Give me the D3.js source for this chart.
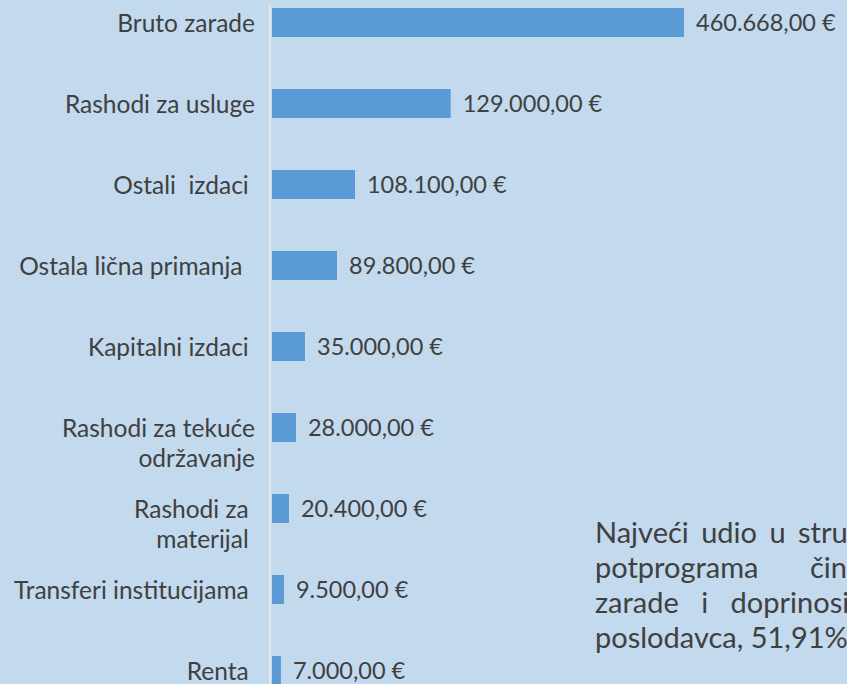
<!DOCTYPE html>
<html>
<head>
<meta charset="utf-8">
<script src="https://cdn.jsdelivr.net/npm/d3@7"></script>
<style>
  body { margin: 0; background: #c2d9ee; overflow: hidden; }
  text { font-family: Lato, "Open Sans", sans-serif; fill: #404040; }
</style>
</head>
<body>
<script>
/*
Rashodi potprograma - horizontalni bar chart
*/
var width = 847,
    height = 684;

// kategorije (redovi za vise linija), razmaci na kraju kao u originalu
var categories = [
  ["Bruto zarade"],
  ["Rashodi za usluge"],
  ["Ostali  izdaci "],
  ["Ostala lična primanja  "],
  ["Kapitalni izdaci "],
  ["Rashodi za tekuće", "održavanje"],
  ["Rashodi za ", "materijal "],
  ["Transferi institucijama "],
  ["Renta "]
];

// iznosi kako pisu na oznakama
var amounts = [460668, 129000, 108100, 89800, 35000, 28000, 20400, 9500, 7000];

// duzine stubica ocitane sa slike (u eurima)
var barValues = [460668, 199800, 92800, 72700, 36900, 26800, 19000, 13400, 10000];

// tekst sa desne strane
var noteLines = [
  "Najveći udio u strukturi rashoda",
  "potprograma čine bruto",
  "zarade i doprinosi na teret",
  "poslodavca, 51,91%."
];
var noteSpacing = [5, 44, 15, 0];

var x0 = 272;

var svg = d3.select("body").append("svg")
    .attr("width", width)
    .attr("height", height)
    .style("display", "block");

svg.append("rect")
    .attr("width", width)
    .attr("height", height)
    .attr("fill", "#c2d9ee");

var x = d3.scaleLinear()
    .domain([0, d3.max(barValues)])
    .range([0, 412]);

var y = d3.scaleBand()
    .domain(d3.range(categories.length))
    .range([8, 685])
    .paddingInner(0.642)
    .paddingOuter(0);

var fmt = d3.formatLocale({ decimal: ",", thousands: ".", grouping: [3], currency: ["", " €"] })
    .format("$,.2f");

// vertikalna osa
svg.append("line")
    .attr("x1", 270).attr("x2", 270)
    .attr("y1", 5).attr("y2", height)
    .attr("stroke", "#e6e6e6")
    .attr("stroke-width", 2);

var rows = svg.append("g")
  .selectAll("g")
  .data(categories)
  .enter().append("g");

rows.append("rect")
    .attr("x", x0)
    .attr("y", function(d, i) { return y(i); })
    .attr("width", function(d, i) { return x(barValues[i]); })
    .attr("height", y.bandwidth())
    .attr("fill", "#5b9bd5");

rows.append("text")
    .attr("x", function(d, i) { return x0 + x(barValues[i]) + 12; })
    .attr("y", function(d, i) { return y(i) + y.bandwidth() / 2; })
    .attr("dy", "0.35em")
    .style("font-size", "23.5px")
    .text(function(d, i) { return fmt(amounts[i]); });

var labels = rows.append("text")
    .attr("text-anchor", "end")
    .attr("y", function(d, i) { return y(i) + y.bandwidth() / 2 + 1; })
    .style("font-size", "24.5px")
    .style("white-space", "pre");

labels.selectAll("tspan")
  .data(function(d) { return d; })
  .enter().append("tspan")
    .attr("x", 255)
    .attr("dy", function(d, j) { return j === 0 ? "0.35em" : "29.5px"; })
    .text(function(d) { return d; });

// komentar desno
svg.append("g")
  .selectAll("text")
  .data(noteLines)
  .enter().append("text")
    .attr("x", 595)
    .attr("y", function(d, i) { return 543 + i * 35; })
    .attr("word-spacing", function(d, i) { return noteSpacing[i]; })
    .style("font-size", "29px")
    .text(function(d) { return d; });
</script>
</body>
</html>
